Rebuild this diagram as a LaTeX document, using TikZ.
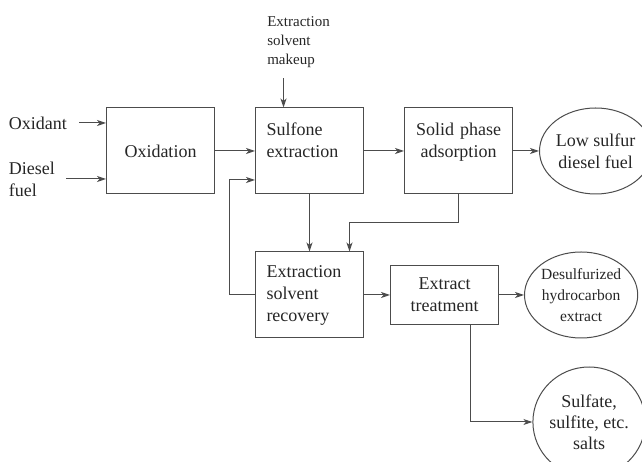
\documentclass[tikz,border=0pt]{standalone}
\usepackage{fontspec}
\setmainfont{Liberation Serif}
\usepackage{tikz}
\usetikzlibrary{shapes.geometric, arrows.meta, positioning}

\begin{document}
\begin{tikzpicture}[
    x=1pt, y=1pt,
    node distance=40pt,
    font=\fontsize{18}{22}\selectfont,
    % Base style
    base/.style={
        draw=black!70, line width=1pt, text=black!85
    },
    % Process boxes (same width and height)
    box_process/.style={
        base, rectangle, minimum width=108pt, minimum height=86pt,
        inner xsep=11pt, text width=86pt, align=center
    },
    box_left/.style={
        box_process, align=left
    },
    box_short/.style={
        box_process, minimum height=59pt
    },
    % Final products (ellipses)
    box_product/.style={
        base, ellipse, inner sep=0pt, align=center
    },
    % Free input texts
    txt_input/.style={
        inner sep=0pt, align=left, text=black!85
    },
    flow/.style={draw=black!70, line width=1pt, -{Stealth[length=9pt, width=6pt, inset=2.5pt]}}
]
    \useasboundingbox (0,0) rectangle (642,462);

    % 1. Upper row (main chain)
    \node[box_process] (ox) at (160.5,311) {Oxidation};
    \node[box_left, right=of ox] (sx) {Sulfone\\extraction\\\mbox{}};
    \node[box_process, right=of sx] (spa) {Solid phase\\adsorption\\\mbox{}};
    \node[box_product, minimum width=106pt, minimum height=86pt, right=26pt of spa] (lsd) {Low sulfur\\diesel fuel};

    % 2. Inputs
    \node[txt_input, left=39pt of ox, yshift=28pt] (oxi) {Oxidant};
    \node[txt_input, left=51pt of ox, yshift=-28pt] (dsl) {Diesel\\fuel};
    \node[txt_input, font=\fontsize{15}{19}\selectfont, above=40pt of sx, xshift=-11pt] (mk) {Extraction\\solvent\\makeup};

    % 3. Lower row (solvent and extract)
    \node[box_left, below=57pt of sx] (rec) {Extraction\\solvent\\recovery};
    \node[box_short, right=26pt of rec] (tr) {Extract\\treatment};
    \node[box_product, font=\fontsize{15.5}{21}\selectfont, minimum width=109pt, minimum height=86pt, right=25pt of tr] (dhc) {Desulfurized\\hydrocarbon\\extract};
    \node[box_product, font=\fontsize{18}{21}\selectfont, minimum width=96pt, minimum height=110pt, below=28pt of dhc, xshift=8pt] (salts) {Sulfate,\\sulfite, etc.\\salts};

    % Invisible points for the bends
    \coordinate (mkin) at ([xshift=-26pt]sx.north);
    \coordinate (junta) at ([yshift=-28pt]spa.south);
    \coordinate (retorno) at ([xshift=-26pt]rec.west);

    % --- CONNECTIONS ---

    % Feeds into the first steps
    \draw[flow, shorten <=12pt] (oxi.east) -- (oxi.east -| ox.west);
    \draw[flow, shorten <=11pt] (dsl.east) -- (dsl.east -| ox.west);
    \draw[flow, shorten <=11pt] (mk.south -| mkin) -- (mkin);

    % Main chain
    \draw[flow] (ox) -- (sx);
    \draw[flow] (sx) -- (spa);
    \draw[flow] (spa) -- (lsd);

    % Down to the solvent recovery and back
    \draw[flow] (sx) -- (rec);
    \draw[flow] (spa.south) -- (junta) -| ([xshift=40pt]rec.north);
    \draw[flow] (rec.west) -- (retorno) |- ([yshift=-29pt]sx.west);

    % Extract treatment and its products
    \draw[flow] (rec) -- (tr);
    \draw[flow] (tr) -- (dhc);
    \draw[flow] ([xshift=26pt]tr.south) |- (salts.west);

\end{tikzpicture}
\end{document}
